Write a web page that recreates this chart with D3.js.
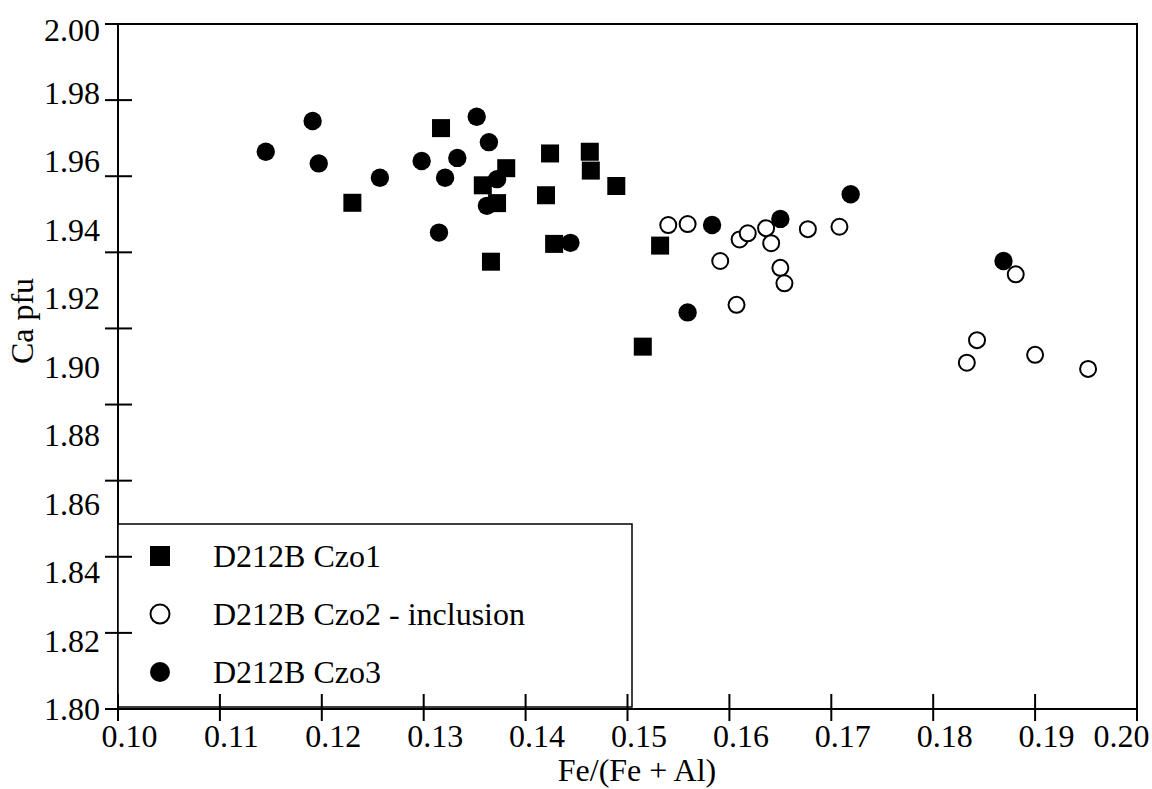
<!DOCTYPE html>
<html>
<head>
<meta charset="utf-8">
<script src="https://cdn.jsdelivr.net/npm/d3@7/dist/d3.min.js"></script>
<style>
  html, body { margin: 0; padding: 0; background: #fff; }
  svg { display: block; font-family: "Liberation Serif", "Times New Roman", serif; }
</style>
</head>
<body>
<script>
// ---- data ----
const czo1X = [0.1317, 0.1381, 0.1358, 0.1372, 0.1424, 0.1463, 0.1464, 0.1489, 0.1420, 0.1428, 0.1366, 0.1532, 0.1515, 0.1230];
const czo1Y = [1.9696, 1.9579, 1.9529, 1.9477, 1.9622, 1.9627, 1.9572, 1.9527, 1.9500, 1.9358, 1.9306, 1.9353, 1.9058, 1.9478];

const czo2X = [0.1540, 0.1559, 0.1610, 0.1618, 0.1636, 0.1641, 0.1677, 0.1708, 0.1591, 0.1650, 0.1654, 0.1607, 0.1881, 0.1843, 0.1833, 0.1900, 0.1952];
const czo2Y = [1.9413, 1.9416, 1.9371, 1.9389, 1.9404, 1.9360, 1.9401, 1.9408, 1.9308, 1.9288, 1.9243, 1.9180, 1.9269, 1.9077, 1.9011, 1.9034, 1.8993];

const czo3X = [0.1145, 0.1191, 0.1197, 0.1257, 0.1352, 0.1364, 0.1298, 0.1333, 0.1321, 0.1372, 0.1362, 0.1315, 0.1444, 0.1559, 0.1583, 0.1650, 0.1719, 0.1869];
const czo3Y = [1.9627, 1.9717, 1.9593, 1.9551, 1.9729, 1.9655, 1.9600, 1.9609, 1.9551, 1.9547, 1.9469, 1.9391, 1.9361, 1.9158, 1.9413, 1.9431, 1.9503, 1.9308];

const seriesNames = ["D212B Czo1", "D212B Czo2 - inclusion", "D212B Czo3"];
const xTickLabels = [0.10, 0.11, 0.12, 0.13, 0.14, 0.15, 0.16, 0.17, 0.18, 0.19, 0.20];
const yTickLabels = [1.80, 1.82, 1.84, 1.86, 1.88, 1.90, 1.92, 1.94, 1.96, 1.98, 2.00];
const yTickMarkCount = 10; // the original has 10 evenly spaced tick marks on the y axis
const xTitle = "Fe/(Fe + Al)";
const yTitle = "Ca pfu";

// ---- layout ----
const W = 1152, H = 789;
const mLeft = 118, mRight = 1137, mTop = 24, mBottom = 709;
const FS = 32;
const FONT = "Liberation Serif, Times New Roman, serif";

const svg = d3.select("body").append("svg").attr("width", W).attr("height", H);

const x = d3.scaleLinear().domain([0.10, 0.20]).range([mLeft, mRight]);
const y = d3.scaleLinear().domain([1.80, 2.00]).range([mBottom, mTop]);

// frame
svg.append("rect")
  .attr("x", mLeft).attr("y", mTop)
  .attr("width", mRight - mLeft).attr("height", mBottom - mTop)
  .attr("fill", "none").attr("stroke", "#000").attr("stroke-width", 2);

// legend box (drawn under the axes)
const legend = svg.append("g");
legend.append("rect")
  .attr("x", mLeft).attr("y", 524)
  .attr("width", 632 - mLeft).attr("height", 707 - 524)
  .attr("fill", "#fff").attr("stroke", "#000").attr("stroke-width", 1.5);

// x axis: labels via d3 axis, crossing tick marks drawn separately
const xAxis = svg.append("g")
  .attr("transform", `translate(0,${mBottom})`)
  .call(d3.axisBottom(x).tickValues(xTickLabels).tickSize(0).tickPadding(15).tickFormat(d3.format(".2f")));
xAxis.attr("font-size", FS).attr("font-family", FONT);
xAxis.select(".domain").remove();
xAxis.selectAll("text")
  .attr("fill", "#000")
  .attr("dx", (d, i) => i === xTickLabels.length - 1 ? -16 : 11);

svg.append("line").attr("x1", mLeft).attr("x2", mRight).attr("y1", mBottom).attr("y2", mBottom)
  .attr("stroke", "#000").attr("stroke-width", 2);
svg.append("g").selectAll("line").data(xTickLabels).join("line")
  .attr("x1", d => x(d)).attr("x2", d => x(d))
  .attr("y1", mBottom - 15).attr("y2", mBottom + 12)
  .attr("stroke", "#000").attr("stroke-width", 2);

// y axis labels
const yAxis = svg.append("g")
  .attr("transform", `translate(${mLeft},0)`)
  .call(d3.axisLeft(y).tickValues(yTickLabels).tickSize(0).tickPadding(18).tickFormat(d3.format(".2f")));
yAxis.attr("font-size", FS).attr("font-family", FONT);
yAxis.select(".domain").remove();
yAxis.selectAll("text")
  .attr("fill", "#000")
  .attr("dy", d => d === 2.00 ? "0.52em" : "0.34em");

// y tick marks (10 evenly spaced, as in the original)
const yMark = d3.scaleLinear().domain([0, yTickMarkCount - 1]).range([mTop, mBottom]);
svg.append("g").selectAll("line").data(d3.range(yTickMarkCount)).join("line")
  .attr("x1", mLeft - 13).attr("x2", mLeft + 14)
  .attr("y1", d => yMark(d)).attr("y2", d => yMark(d))
  .attr("stroke", "#000").attr("stroke-width", 2);

// axis titles
svg.append("text")
  .attr("x", 637).attr("y", 781).attr("font-family", FONT)
  .attr("text-anchor", "middle").attr("font-size", FS).text(xTitle);
svg.append("text")
  .attr("transform", "translate(33,321) rotate(-90)").attr("font-family", FONT)
  .attr("text-anchor", "middle").attr("font-size", FS).text(yTitle);

// data marks
const sq = 18;
const d1 = czo1X.map((v, i) => [v, czo1Y[i]]);
const d2 = czo2X.map((v, i) => [v, czo2Y[i]]);
const d3s = czo3X.map((v, i) => [v, czo3Y[i]]);

svg.append("g").selectAll("rect").data(d1).join("rect")
  .attr("x", d => x(d[0]) - sq / 2).attr("y", d => y(d[1]) - sq / 2)
  .attr("width", sq).attr("height", sq).attr("fill", "#000");

svg.append("g").selectAll("circle").data(d2).join("circle")
  .attr("cx", d => x(d[0])).attr("cy", d => y(d[1])).attr("r", 8)
  .attr("fill", "#fff").attr("stroke", "#000").attr("stroke-width", 2);

svg.append("g").selectAll("circle").data(d3s).join("circle")
  .attr("cx", d => x(d[0])).attr("cy", d => y(d[1])).attr("r", 9.2)
  .attr("fill", "#000");

// legend entries
const legY = [556, 614, 672];
legend.append("rect").attr("x", 150).attr("y", legY[0] - 10).attr("width", 20).attr("height", 20).attr("fill", "#000");
legend.append("circle").attr("cx", 160).attr("cy", legY[1]).attr("r", 9.5)
  .attr("fill", "#fff").attr("stroke", "#000").attr("stroke-width", 2);
legend.append("circle").attr("cx", 160).attr("cy", legY[2]).attr("r", 10).attr("fill", "#000");
legend.selectAll("text").data(seriesNames).join("text")
  .attr("x", 213).attr("y", (d, i) => legY[i]).attr("dy", "0.34em")
  .attr("font-family", FONT).attr("font-size", FS).text(d => d);
</script>
</body>
</html>
